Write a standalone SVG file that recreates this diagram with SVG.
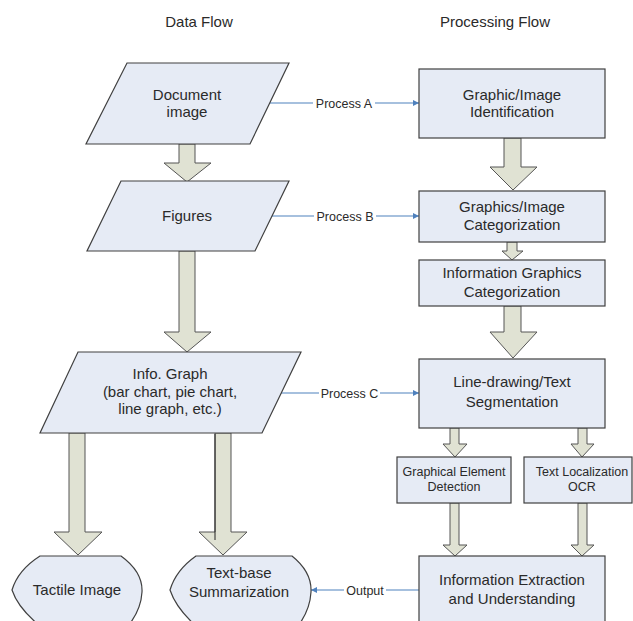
<svg xmlns="http://www.w3.org/2000/svg" width="633" height="621" viewBox="0 0 633 621">
<style>
.node{fill:#e6ebf5;stroke:#404040;stroke-width:1.2}
.blk{fill:#e0e2d3;stroke:#555;stroke-width:1}
.t{font-family:"Liberation Sans",Arial,sans-serif;font-size:15px;fill:#2a2a2a;text-anchor:middle}
.s{font-family:"Liberation Sans",Arial,sans-serif;font-size:12.5px;fill:#2a2a2a;text-anchor:middle}
.lbl{font-family:"Liberation Sans",Arial,sans-serif;font-size:12.5px;fill:#2a2a2a;text-anchor:middle}
.ln{stroke:#4f81bd;stroke-width:1.2;fill:none}
</style>
<defs>
<marker id="ah" viewBox="0 0 10 10" refX="10" refY="5" markerWidth="7" markerHeight="6" orient="auto" markerUnits="userSpaceOnUse">
<path d="M0,0 L10,5 L0,10 Z" fill="#4f81bd"/>
</marker>
</defs>
<rect width="633" height="621" fill="#ffffff"/>
<text class="t" x="199" y="27">Data Flow</text>
<text class="t" x="495" y="27">Processing Flow</text>

<g id="connectors">
<polygon class="blk" points="179,144 195,144 195,163 211,163 187,182 164,163 179,163"/>
<polygon class="blk" points="179,251 195,251 195,332 211,332 187,352 164,332 179,332"/>
<polygon class="blk" points="69,433 85,433 85,532 102,532 78,555 54,532 69,532"/>
<polygon class="blk" points="215,433 231,433 231,532 247,532 223,555 199,532 215,532"/>
<line x1="215" y1="434" x2="215" y2="540" stroke="#222" stroke-width="1"/>
<polygon class="blk" points="504,138 521,138 521,167 537,167 513,190 490,167 504,167"/>
<polygon class="blk" points="507,242 517,242 517,251 523,251 512,260 502,251 507,251"/>
<polygon class="blk" points="504,306 521,306 521,332 537,332 513,358 490,332 504,332"/>
<polygon class="blk" points="450,428 459,428 459,444 467,444 455,457 443,444 450,444"/>
<polygon class="blk" points="578,428 587,428 587,444 594,444 582,457 571,444 578,444"/>
<polygon class="blk" points="450,503 459,503 459,545 467,545 455,556 443,545 450,545"/>
<polygon class="blk" points="578,503 587,503 587,545 594,545 582,556 571,545 578,545"/>

<line class="ln" x1="270" y1="103" x2="313" y2="103"/>
<line class="ln" x1="375" y1="103" x2="419" y2="103" marker-end="url(#ah)"/>
<text class="lbl" x="344" y="107.5">Process A</text>

<line class="ln" x1="272" y1="216" x2="314" y2="216"/>
<line class="ln" x1="376" y1="216" x2="419" y2="216" marker-end="url(#ah)"/>
<text class="lbl" x="345" y="220.5">Process B</text>

<line class="ln" x1="281" y1="393" x2="319" y2="393"/>
<line class="ln" x1="380" y1="393" x2="419" y2="393" marker-end="url(#ah)"/>
<text class="lbl" x="349.5" y="397.5">Process C</text>

<line class="ln" x1="419" y1="590" x2="386" y2="590"/>
<line class="ln" x1="344" y1="590" x2="311" y2="590" marker-end="url(#ah)"/>
<text class="lbl" x="365" y="594.5">Output</text>
</g>

<g id="doc">
<polygon class="node" points="127,63 289,63 250,144 86,144"/>
<text class="t" x="187" y="100">Document</text>
<text class="t" x="187" y="117">image</text>
</g>
<g id="figures">
<polygon class="node" points="121,181 289,181 255,251 87,251"/>
<text class="t" x="187" y="221">Figures</text>
</g>
<g id="infograph">
<polygon class="node" points="78,352 301,352 262,433 40,433"/>
<text class="t" x="170" y="379">Info. Graph</text>
<text class="t" x="170" y="397">(bar chart, pie chart,</text>
<text class="t" x="170" y="414">line graph, etc.)</text>
</g>
<g id="tactile">
<path class="node" d="M40,556 L121,556 Q143,572 142,592 Q141,610 128,626 L40,626 Q18,608 12,590 Q18,570 40,556 Z"/>
<text class="t" x="77" y="595">Tactile Image</text>
</g>
<g id="textbase">
<path class="node" d="M196,556 L292,556 Q312,572 311,592 Q310,610 298,626 L196,626 Q176,608 170,590 Q176,570 196,556 Z"/>
<text class="t" x="239" y="578">Text-base</text>
<text class="t" x="239" y="597">Summarization</text>
</g>

<g id="box1">
<rect class="node" x="419" y="69" width="186" height="69"/>
<text class="t" x="512" y="100">Graphic/Image</text>
<text class="t" x="512" y="117">Identification</text>
</g>
<g id="box2">
<rect class="node" x="419" y="191" width="186" height="51"/>
<text class="t" x="512" y="212">Graphics/Image</text>
<text class="t" x="512" y="230">Categorization</text>
</g>
<g id="box3">
<rect class="node" x="419" y="260" width="186" height="46"/>
<text class="t" x="512" y="278">Information Graphics</text>
<text class="t" x="512" y="297">Categorization</text>
</g>
<g id="box4">
<rect class="node" x="419" y="359" width="186" height="69"/>
<text class="t" x="512" y="387">Line-drawing/Text</text>
<text class="t" x="512" y="407">Segmentation</text>
</g>
<g id="box5">
<rect class="node" x="397" y="457" width="114" height="46"/>
<text class="s" x="454" y="476">Graphical Element</text>
<text class="s" x="454" y="491">Detection</text>
</g>
<g id="box6">
<rect class="node" x="524" y="457" width="108" height="46"/>
<text class="s" x="582" y="476">Text Localization</text>
<text class="s" x="582" y="491">OCR</text>
</g>
<g id="box7">
<rect class="node" x="419" y="556" width="186" height="70"/>
<text class="t" x="512" y="585">Information Extraction</text>
<text class="t" x="512" y="604">and Understanding</text>
</g>
</svg>
